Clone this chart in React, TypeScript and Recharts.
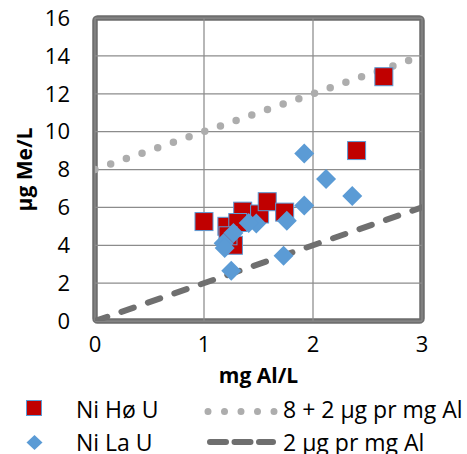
import React from "react";
import {
  ScatterChart,
  Scatter,
  XAxis,
  YAxis,
  CartesianGrid,
} from "recharts";

// Ni Hø U (red squares)
const hoX = [2.65, 2.4, 1.0, 1.21, 1.355, 1.31, 1.51, 1.58, 1.74, 1.27, 1.22];
const hoY = [12.9, 9.0, 5.25, 5.0, 5.8, 5.2, 5.65, 6.3, 5.75, 4.0, 4.5];

// Ni La U (blue diamonds)
const laX = [1.92, 2.12, 2.36, 1.92, 1.76, 1.73, 1.25, 1.48, 1.41, 1.27, 1.18, 1.19];
const laY = [8.85, 7.5, 6.6, 6.1, 5.3, 3.45, 2.65, 5.15, 5.18, 4.65, 4.1, 3.85];

// reference lines
const upperX = [0, 3];
const upperY = [8, 14];
const lowerX = [0, 3];
const lowerY = [0, 6];

const xTicks = [0, 1, 2, 3];
const yTicks = [0, 2, 4, 6, 8, 10, 12, 14, 16];

const zip = (xs: number[], ys: number[]) => xs.map((x, i) => ({ x, y: ys[i] }));

const FONT = '"Open Sans", sans-serif';
const RED = "#c00000";
const BLUE = "#5b9bd5";
const DOT_GREY = "#adadad";
const DASH_GREY = "#6f6f6f";
const FRAME = "#6e6e6e";

// chart box
const W = 467;
const H = 390;
const M = { top: 18, right: 45, bottom: 0, left: 0 };
const Y_AXIS_W = 95;
const X_AXIS_H = 69;
const PLOT_L = M.left + Y_AXIS_W;
const PLOT_R = W - M.right;
const PLOT_T = M.top;
const PLOT_B = H - M.bottom - X_AXIS_H;

const Square = (p: any) => (
  <rect x={p.cx - 9} y={p.cy - 9} width={18} height={18} fill={RED} stroke={BLUE} strokeWidth={1} />
);

const Diamond = (p: any) => (
  <polygon
    points={`${p.cx},${p.cy - 10} ${p.cx + 10},${p.cy} ${p.cx},${p.cy + 10} ${p.cx - 10},${p.cy}`}
    fill={BLUE}
  />
);

const Nothing = () => <g />;

const tickStyle = { fill: "#000", fontSize: 22, fontFamily: FONT };
const titleStyle = { fontFamily: FONT, fontSize: 21, fontWeight: 700, fill: "#000" };

function Legend() {
  const t = { fontFamily: FONT, fontSize: 23, fill: "#000" };
  return (
    <svg style={{ position: "absolute", left: 0, top: 390 }} width={467} height={64}>
      <rect x={26.5} y={10.5} width={15} height={15} fill={RED} stroke={BLUE} strokeWidth={1} />
      <polygon points="34.5,45 42.5,52.5 34.5,60 26.5,52.5" fill={BLUE} />
      <line x1={208} y1={21.5} x2={275} y2={21.5} stroke={DOT_GREY} strokeWidth={7}
        strokeDasharray="0 16.5" strokeLinecap="round" />
      <line x1={210} y1={52} x2={273} y2={52} stroke={DASH_GREY} strokeWidth={6}
        strokeDasharray="16 8.5" strokeLinecap="round" />
      <text x={76} y={28} {...t}>Ni Hø U</text>
      <text x={76} y={61} {...t}>Ni La U</text>
      <text x={283} y={28} {...t}>8 + 2 µg pr mg Al</text>
      <text x={283} y={61} {...t}>2 µg pr mg Al</text>
    </svg>
  );
}

export default function App() {
  return (
    <div style={{ position: "absolute", left: 0, top: 0, width: 467, height: 454, background: "#fff", overflow: "hidden" }}>
      {/* thick plot-area frame, Excel style, painted under the series */}
      <svg style={{ position: "absolute", left: 0, top: 0 }} width={W} height={H}>
        <rect
          x={PLOT_L}
          y={PLOT_T}
          width={PLOT_R - PLOT_L}
          height={PLOT_B - PLOT_T}
          fill="none"
          stroke={FRAME}
          strokeWidth={5.5}
          rx={2.5}
        />
      </svg>
      <ScatterChart width={W} height={H} margin={M}>
        <CartesianGrid stroke="#8c8c8c" strokeWidth={1.25} />
        <XAxis
          type="number"
          dataKey="x"
          domain={[0, 3]}
          ticks={xTicks}
          allowDataOverflow
          tick={tickStyle}
          tickLine={false}
          axisLine={false}
          tickSize={0}
          tickMargin={15}
          height={X_AXIS_H}
          label={{ value: "mg Al/L", position: "insideTop", offset: 47, style: titleStyle }}
        />
        <YAxis
          type="number"
          dataKey="y"
          domain={[0, 16]}
          ticks={yTicks}
          allowDataOverflow
          tick={tickStyle}
          tickLine={false}
          axisLine={false}
          tickSize={0}
          tickMargin={25}
          width={Y_AXIS_W}
          label={{
            value: "µg Me/L",
            angle: -90,
            position: "insideLeft",
            offset: 25,
            style: { ...titleStyle, textAnchor: "middle" },
          }}
        />
        <Scatter
          data={zip(upperX, upperY)}
          shape={Nothing}
          line={{ stroke: DOT_GREY, strokeWidth: 7.5, strokeDasharray: "0 16.6", strokeLinecap: "round" }}
          isAnimationActive={false}
        />
        <Scatter
          data={zip(lowerX, lowerY)}
          shape={Nothing}
          line={{ stroke: DASH_GREY, strokeWidth: 6, strokeDasharray: "13 15", strokeLinecap: "round" }}
          isAnimationActive={false}
        />
        <Scatter data={zip(hoX, hoY)} shape={Square} isAnimationActive={false} />
        <Scatter data={zip(laX, laY)} shape={Diamond} isAnimationActive={false} />
      </ScatterChart>
      <Legend />
    </div>
  );
}
